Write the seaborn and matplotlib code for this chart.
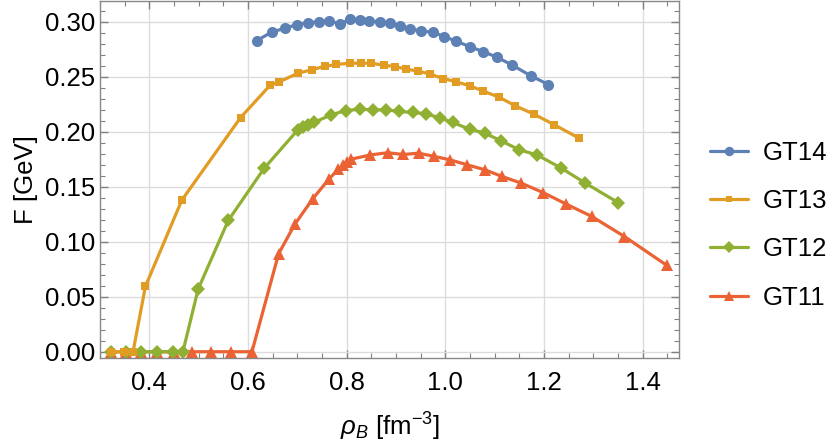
import matplotlib
matplotlib.use("Agg")
import matplotlib.pyplot as plt
from matplotlib.ticker import MultipleLocator, FormatStrFormatter
import seaborn as sns
import numpy as np
import pandas as pd

# data
gt14_x = [0.618, 0.649, 0.674, 0.699, 0.722, 0.743, 0.765, 0.787, 0.807, 0.826, 0.846, 0.867,
          0.887, 0.909, 0.929, 0.950, 0.975, 0.998, 1.022, 1.049, 1.076, 1.104, 1.136, 1.173, 1.209]
gt14_y = [0.283, 0.291, 0.294, 0.2976, 0.2994, 0.300, 0.301, 0.298, 0.3027, 0.3018, 0.3009, 0.300,
          0.2988, 0.2966, 0.2936, 0.2918, 0.2906, 0.2866, 0.2824, 0.2776, 0.273, 0.268, 0.2606, 0.251, 0.243]

gt13_x = [0.322, 0.349, 0.367, 0.392, 0.466, 0.585, 0.645, 0.662, 0.701, 0.729, 0.756, 0.779,
          0.806, 0.829, 0.850, 0.875, 0.898, 0.921, 0.945, 0.968, 0.995, 1.022, 1.050, 1.077,
          1.109, 1.142, 1.180, 1.221, 1.270]
gt13_y = [0.0, 0.0, 0.0, 0.0594, 0.138, 0.2130, 0.2425, 0.2452, 0.2533, 0.2564, 0.2597, 0.2613,
          0.2624, 0.2624, 0.2624, 0.2606, 0.2594, 0.257, 0.2552, 0.2527, 0.2485, 0.2455, 0.2418, 0.237,
          0.2315, 0.2236, 0.216, 0.2064, 0.1945]

gt12_x = [0.322, 0.352, 0.383, 0.415, 0.447, 0.468, 0.499, 0.560, 0.633, 0.701, 0.711, 0.721,
          0.733, 0.769, 0.798, 0.826, 0.853, 0.880, 0.907, 0.934, 0.960, 0.990, 1.015, 1.049,
          1.080, 1.113, 1.150, 1.186, 1.235, 1.284, 1.350]
gt12_y = [0.0, 0.0, 0.0, 0.0, 0.0, 0.0, 0.057, 0.1194, 0.167, 0.2018, 0.2042, 0.2064,
          0.2085, 0.2155, 0.2194, 0.2205, 0.220, 0.220, 0.2185, 0.2176, 0.2165, 0.2125, 0.2085, 0.2024,
          0.1988, 0.1918, 0.1836, 0.179, 0.167, 0.1533, 0.1357]

gt11_x = [0.322, 0.353, 0.383, 0.415, 0.451, 0.487, 0.525, 0.566, 0.608, 0.662, 0.695, 0.731,
          0.764, 0.783, 0.793, 0.800, 0.808, 0.848, 0.883, 0.915, 0.946, 0.978, 1.010, 1.044,
          1.080, 1.115, 1.154, 1.198, 1.244, 1.297, 1.363, 1.449]
gt11_y = [0.0, 0.0, 0.0, 0.0, 0.0, 0.0, 0.0, 0.0, 0.0, 0.0891, 0.116, 0.139,
          0.157, 0.166, 0.170, 0.173, 0.175, 0.179, 0.181, 0.1794, 0.1806, 0.1776, 0.1745, 0.170,
          0.1655, 0.1594, 0.1533, 0.1448, 0.1345, 0.123, 0.1048, 0.0785]

series = [
    ("GT14", gt14_x, gt14_y, "#5E81B5", "o", 8),
    ("GT13", gt13_x, gt13_y, "#E19C24", "s", 5.5),
    ("GT12", gt12_x, gt12_y, "#8FB032", "D", 7.5),
    ("GT11", gt11_x, gt11_y, "#EB6235", "^", 8.5),
]

sns.set_style("ticks")
plt.rcParams['font.family'] = ['Liberation Sans', 'DejaVu Sans']
plt.rcParams['mathtext.fontset'] = 'custom'
plt.rcParams['mathtext.rm'] = 'Liberation Sans'
plt.rcParams['mathtext.it'] = 'Liberation Sans:italic'
plt.rcParams['text.color'] = 'black'
plt.rcParams['xtick.labelcolor'] = 'black'
plt.rcParams['ytick.labelcolor'] = 'black'
plt.rcParams['axes.labelcolor'] = 'black'

FS = 18.5

fig = plt.figure(figsize=(8.3, 4.47), dpi=100)
ax = fig.add_axes([100 / 830, 1 - 358 / 447, 579 / 830, 357 / 447])

# draw in reverse so GT14 sits on top
for name, xs, ys, col, mk, ms in series[::-1]:
    df = pd.DataFrame({"x": xs, "y": ys})
    sns.lineplot(data=df, x="x", y="y", ax=ax, color=col, marker=mk, markersize=ms,
                 markeredgewidth=0, linewidth=2.3, sort=False, estimator=None, label=name)

ax.set_xlim(0.30, 1.4736)
ax.set_ylim(-0.0057, 0.319)
ax.xaxis.set_major_locator(MultipleLocator(0.2))
ax.xaxis.set_minor_locator(MultipleLocator(0.05))
ax.yaxis.set_major_locator(MultipleLocator(0.05))
ax.yaxis.set_minor_locator(MultipleLocator(0.01))
ax.xaxis.set_major_formatter(FormatStrFormatter("%.1f"))
ax.yaxis.set_major_formatter(FormatStrFormatter("%.2f"))
ax.grid(True, which="major", color="#dcdcdc", linewidth=1)
ax.set_axisbelow(True)
ax.tick_params(which="both", direction="in", top=True, right=True, color="#808080",
               labelsize=FS)
ax.tick_params(axis="x", pad=9)
ax.tick_params(axis="y", pad=3.5)
ax.tick_params(which="major", length=6, width=1)
ax.tick_params(which="minor", length=3.5, width=0.8)
for s in ax.spines.values():
    s.set_color("#888888")
    s.set_linewidth(1)

ax.set_xlabel(r"$\rho_{B}$ [fm$^{-3}$]", fontsize=FS, labelpad=12)
ax.set_ylabel("F [GeV]", fontsize=FS, labelpad=5)

h, l = ax.get_legend_handles_labels()
order = [l.index(n) for n in ["GT14", "GT13", "GT12", "GT11"]]
ax.legend([h[i] for i in order], [l[i] for i in order], loc="center left",
          bbox_to_anchor=(1.053, 0.372), frameon=False, fontsize=FS, handlelength=1.5,
          handletextpad=0.55, labelspacing=0.95, borderpad=0, borderaxespad=0,
          markerscale=0.85)

fig.savefig("out.png", dpi=100)
